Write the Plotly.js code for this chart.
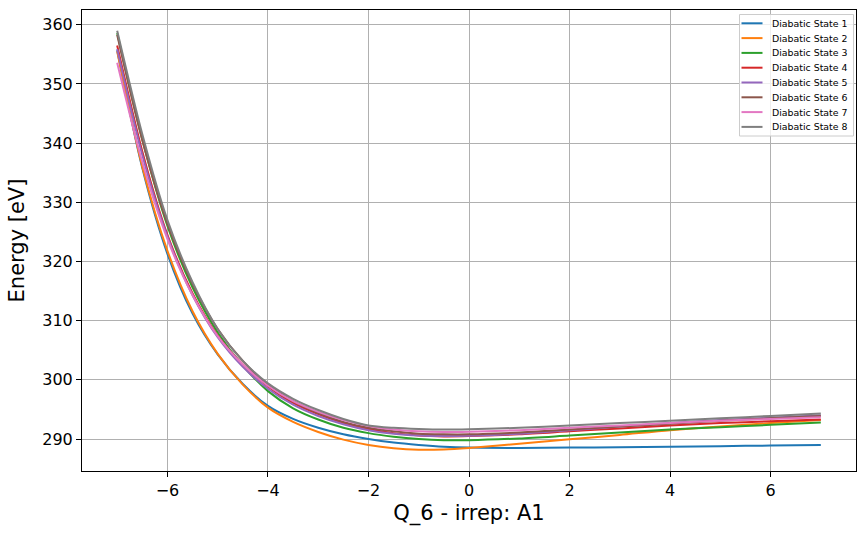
<!DOCTYPE html>
<html>
<head>
<meta charset="utf-8">
<script src="https://cdn.plot.ly/plotly-3.0.1.min.js"></script>
<style>html,body{margin:0;padding:0;background:#fff;}#chart{width:867px;height:537px;}</style>
</head>
<body>
<div id="chart"></div>
<script>
const xValues = [-7, -6.5, -6, -5.5, -5, -4.5, -4, -3.5, -3, -2.5, -2, -1.5, -1, -0.5, 0, 1, 2, 3, 4, 5, 6, 7];

const state1 = [355.7, 335.8, 321.3, 311.2, 304.3, 299.3, 295.6, 293.4, 291.9, 290.8, 290.0, 289.4, 289.0, 288.7, 288.55, 288.5, 288.55, 288.6, 288.7, 288.8, 288.9, 289.0];
const state2 = [355.5, 336.0, 321.8, 311.6, 304.4, 299.2, 295.3, 292.9, 291.2, 289.9, 289.0, 288.45, 288.2, 288.25, 288.5, 289.2, 289.95, 290.7, 291.5, 292.1, 292.7, 293.2];
const state3 = [358.6, 340.6, 326.0, 315.6, 308.0, 302.4, 298.1, 295.2, 293.3, 291.9, 291.0, 290.4, 290.0, 289.8, 289.8, 290.1, 290.6, 291.1, 291.6, 292.0, 292.4, 292.8];
const state4 = [356.5, 338.6, 324.5, 314.6, 307.5, 302.6, 298.9, 296.1, 294.2, 292.7, 291.7, 291.0, 290.6, 290.45, 290.5, 290.8, 291.3, 291.8, 292.3, 292.7, 293.0, 293.3];
const state5 = [355.9, 338.0, 324.2, 314.3, 307.2, 302.2, 298.5, 295.8, 293.9, 292.5, 291.5, 290.9, 290.6, 290.5, 290.55, 290.9, 291.5, 292.1, 292.7, 293.2, 293.6, 294.0];
const state6 = [358.3, 340.5, 326.4, 316.2, 308.6, 303.2, 299.2, 296.4, 294.4, 292.9, 291.9, 291.3, 290.9, 290.8, 290.8, 291.1, 291.6, 292.1, 292.6, 293.1, 293.5, 293.9];
const state7 = [353.6, 336.8, 323.8, 314.3, 307.4, 302.6, 299.0, 296.4, 294.6, 293.2, 292.2, 291.6, 291.3, 291.2, 291.25, 291.5, 291.9, 292.3, 292.7, 293.1, 293.4, 293.7];
const state8 = [359.0, 341.5, 327.0, 316.5, 308.6, 303.2, 299.4, 296.8, 294.9, 293.4, 292.3, 291.9, 291.7, 291.6, 291.65, 291.9, 292.3, 292.7, 293.1, 293.5, 293.9, 294.3];

const seriesNames = ["Diabatic State 1", "Diabatic State 2", "Diabatic State 3", "Diabatic State 4",
                     "Diabatic State 5", "Diabatic State 6", "Diabatic State 7", "Diabatic State 8"];
const seriesValues = [state1, state2, state3, state4, state5, state6, state7, state8];
const colors = ["#1f77b4", "#ff7f0e", "#2ca02c", "#d62728", "#9467bd", "#8c564b", "#e377c2", "#7f7f7f"];

const yTicks = [290, 300, 310, 320, 330, 340, 350, 360];
const xTicks = [-6, -4, -2, 0, 2, 4, 6];

const traces = seriesValues.map((vals, i) => ({
  x: xValues,
  y: vals,
  type: "scatter",
  mode: "lines",
  name: seriesNames[i],
  showlegend: false,
  line: {color: colors[i], width: 2, shape: "spline", smoothing: 0.8}
}));

// Compact matplotlib-style legend drawn in paper coordinates
const W = 867, H = 537, ML = 82, MR = 11, MT = 10, MB = 66;
const pw = W - ML - MR, ph = H - MT - MB;
const px2x = p => (p - ML) / pw;
const py2y = p => (H - MB - p) / ph;
const legBox = {x0: 739.5, x1: 853.5, y0: 14.5, y1: 136};
const legItem0 = 23.3, legStep = 14.8;

const shapes = [{
  type: "rect", xref: "paper", yref: "paper",
  x0: px2x(legBox.x0), x1: px2x(legBox.x1), y0: py2y(legBox.y1), y1: py2y(legBox.y0),
  fillcolor: "rgba(255,255,255,0.8)", line: {color: "#cccccc", width: 1}, layer: "above"
}];
const annotations = [];
seriesNames.forEach((name, i) => {
  const yc = legItem0 + i * legStep;
  shapes.push({
    type: "line", xref: "paper", yref: "paper",
    x0: px2x(741.5), x1: px2x(762.5), y0: py2y(yc), y1: py2y(yc),
    line: {color: colors[i], width: 2}, layer: "above"
  });
  annotations.push({
    xref: "paper", yref: "paper", x: px2x(769.5), y: py2y(yc),
    xanchor: "left", yanchor: "middle", showarrow: false,
    text: name, font: {size: 9.4, family: "DejaVu Sans, sans-serif", color: "#000"}
  });
});

const layout = {
  width: W,
  height: H,
  margin: {l: ML, r: MR, t: MT, b: MB},
  paper_bgcolor: "#ffffff",
  plot_bgcolor: "#ffffff",
  font: {family: "DejaVu Sans, sans-serif", color: "#000"},
  showlegend: false,
  shapes: shapes,
  annotations: annotations,
  xaxis: {
    range: [-7.7, 7.7],
    tickvals: xTicks,
    ticks: "outside", ticklen: 5, tickwidth: 1, tickcolor: "#000",
    tickfont: {size: 16, family: "DejaVu Sans, sans-serif"},
    showgrid: true, gridcolor: "#b0b0b0", gridwidth: 1,
    zeroline: false,
    showline: true, linecolor: "#000", linewidth: 1, mirror: true,
    title: {text: "Q_6 - irrep: A1", font: {size: 21, family: "DejaVu Sans, sans-serif"}, standoff: 6}
  },
  yaxis: {
    range: [284.6, 362.5],
    tickvals: yTicks,
    ticks: "outside", ticklen: 5, tickwidth: 1, tickcolor: "#000",
    tickfont: {size: 16, family: "DejaVu Sans, sans-serif"},
    showgrid: true, gridcolor: "#b0b0b0", gridwidth: 1,
    zeroline: false,
    showline: true, linecolor: "#000", linewidth: 1, mirror: true,
    title: {text: "Energy [eV]", font: {size: 21, family: "DejaVu Sans, sans-serif"}, standoff: 11}
  }
};

Plotly.newPlot("chart", traces, layout, {displayModeBar: false, staticPlot: true});
</script>
</body>
</html>
